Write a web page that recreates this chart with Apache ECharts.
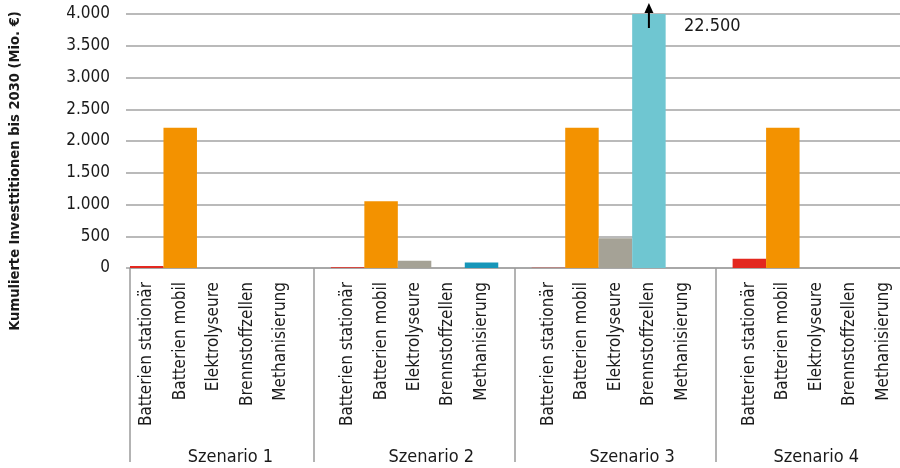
<!DOCTYPE html>
<html>
<head>
<meta charset="utf-8">
<script src="https://cdn.jsdelivr.net/npm/echarts@6/dist/echarts.min.js"></script>
<style>
html,body{margin:0;padding:0;background:#fff;}
#c{width:900px;height:468px;}
</style>
</head>
<body>
<div id="c"></div>
<script>
// ---- data ----
const types = ['Batterien stationär', 'Batterien mobil', 'Elektrolyseure', 'Brennstoffzellen', 'Methanisierung'];
const scenarios = ['Szenario 1', 'Szenario 2', 'Szenario 3', 'Szenario 4'];
const scenario1 = [30, 2210, 0, 0, 0];
const scenario2 = [12, 1050, 115, 0, 85];
const scenario3 = [3, 2210, 470, 22500, 0];
const scenario4 = [145, 2210, 0, 0, 0];
const yTickLabels = ['0', '500', '1.000', '1.500', '2.000', '2.500', '3.000', '3.500', '4.000'];
const yTitle = 'Kumulierte Investtitionen bis 2030 (Mio. €)';
const cappedLabel = '22.500';

// ---- styles ----
const typeColors = ['#e3281f', '#f39200', '#a5a296', '#6fc6d1', '#1696b9'];
const FONT = '"Liberation Sans Narrow", "DejaVu Sans Condensed", "Roboto", sans-serif';
const gridColor = '#a3a3a3';

// ---- build categories ----
const allValues = [scenario1, scenario2, scenario3, scenario4];
const categories = [];
const barData = [];
const sepValues = [0];
const groupCenters = [];
let idx = 0;
allValues.forEach((vals, s) => {
  const start = idx;
  vals.forEach((v, t) => {
    categories.push(types[t]);
    barData.push({ value: v, itemStyle: { color: typeColors[t] } });
    idx++;
  });
  if (s < allValues.length - 1) {
    categories.push(' '.repeat(s + 1));
    barData.push({ value: '-' });
    sepValues.push(idx + 0.5);
    idx++;
  }
  groupCenters.push((start + idx) / 2);
});
const nCat = categories.length;
const yMax = 4000;
const cappedIdx = barData.findIndex(d => typeof d.value === 'number' && d.value > yMax);

const chart = echarts.init(document.getElementById('c'));
chart.setOption({
  animation: false,
  grid: { left: 130, top: 14, bottom: 200, width: nCat * 33.7, containLabel: false },
  xAxis: [
    {
      type: 'category',
      data: categories,
      boundaryGap: true,
      axisLine: { show: true, lineStyle: { color: gridColor, width: 1.5 } },
      axisTick: { show: false },
      axisLabel: {
        interval: 0, rotate: 90, margin: 14,
        fontFamily: FONT, fontSize: 17, color: '#1a1a1a'
      }
    },
    {
      type: 'value',
      min: 0, max: nCat,
      position: 'bottom',
      splitLine: { show: false },
      axisLine: { show: false },
      axisTick: {
        show: true, customValues: sepValues, length: 194, inside: false,
        lineStyle: { color: '#9a9a9a', width: 1.5 }
      },
      axisLabel: {
        show: true, customValues: groupCenters, margin: 180,
        fontFamily: FONT, fontSize: 18, color: '#1a1a1a',
        formatter: function (v) {
          const i = groupCenters.findIndex(c => Math.abs(c - v) < 1e-6);
          return i >= 0 ? scenarios[i] : '';
        }
      }
    }
  ],
  yAxis: {
    type: 'value',
    min: 0, max: yMax, interval: 500,
    axisLine: { show: false },
    axisTick: { show: true, length: 4, lineStyle: { color: gridColor, width: 1.5 } },
    splitLine: { show: true, lineStyle: { color: gridColor, width: 1.5 } },
    axisLabel: {
      margin: 20, fontFamily: FONT, fontSize: 17, color: '#1a1a1a',
      formatter: function (v) { return yTickLabels[Math.round(v / 500)]; }
    }
  },
  graphic: [{
    type: 'text',
    x: 15, y: 171,
    rotation: Math.PI / 2,
    style: {
      text: yTitle, fontFamily: FONT, fontWeight: 'bold', fontSize: 14.6,
      fill: '#1a1a1a', align: 'center', verticalAlign: 'middle'
    }
  }],
  series: [
    {
      type: 'bar',
      xAxisIndex: 0,
      data: barData,
      barWidth: '100%',
      barCategoryGap: 0,
      clip: true
    },
    {
      type: 'custom',
      xAxisIndex: 0,
      clip: false,
      z: 10,
      data: [[cappedIdx, yMax]],
      renderItem: function (params, api) {
        const p = api.coord([api.value(0), api.value(1)]);
        return {
          type: 'group',
          children: [
            { type: 'line', shape: { x1: p[0], y1: p[1] + 14, x2: p[0], y2: p[1] - 3 },
              style: { stroke: '#000', lineWidth: 2 } },
            { type: 'polygon', shape: { points: [[p[0], p[1] - 11], [p[0] - 4.5, p[1] - 1], [p[0] + 4.5, p[1] - 1]] },
              style: { fill: '#000' } },
            { type: 'text', x: p[0] + 35, y: p[1] + 12,
              style: { text: cappedLabel, fontFamily: FONT, fontSize: 18, fill: '#1a1a1a',
                        align: 'left', verticalAlign: 'middle' } }
          ]
        };
      }
    }
  ]
});
</script>
</body>
</html>
